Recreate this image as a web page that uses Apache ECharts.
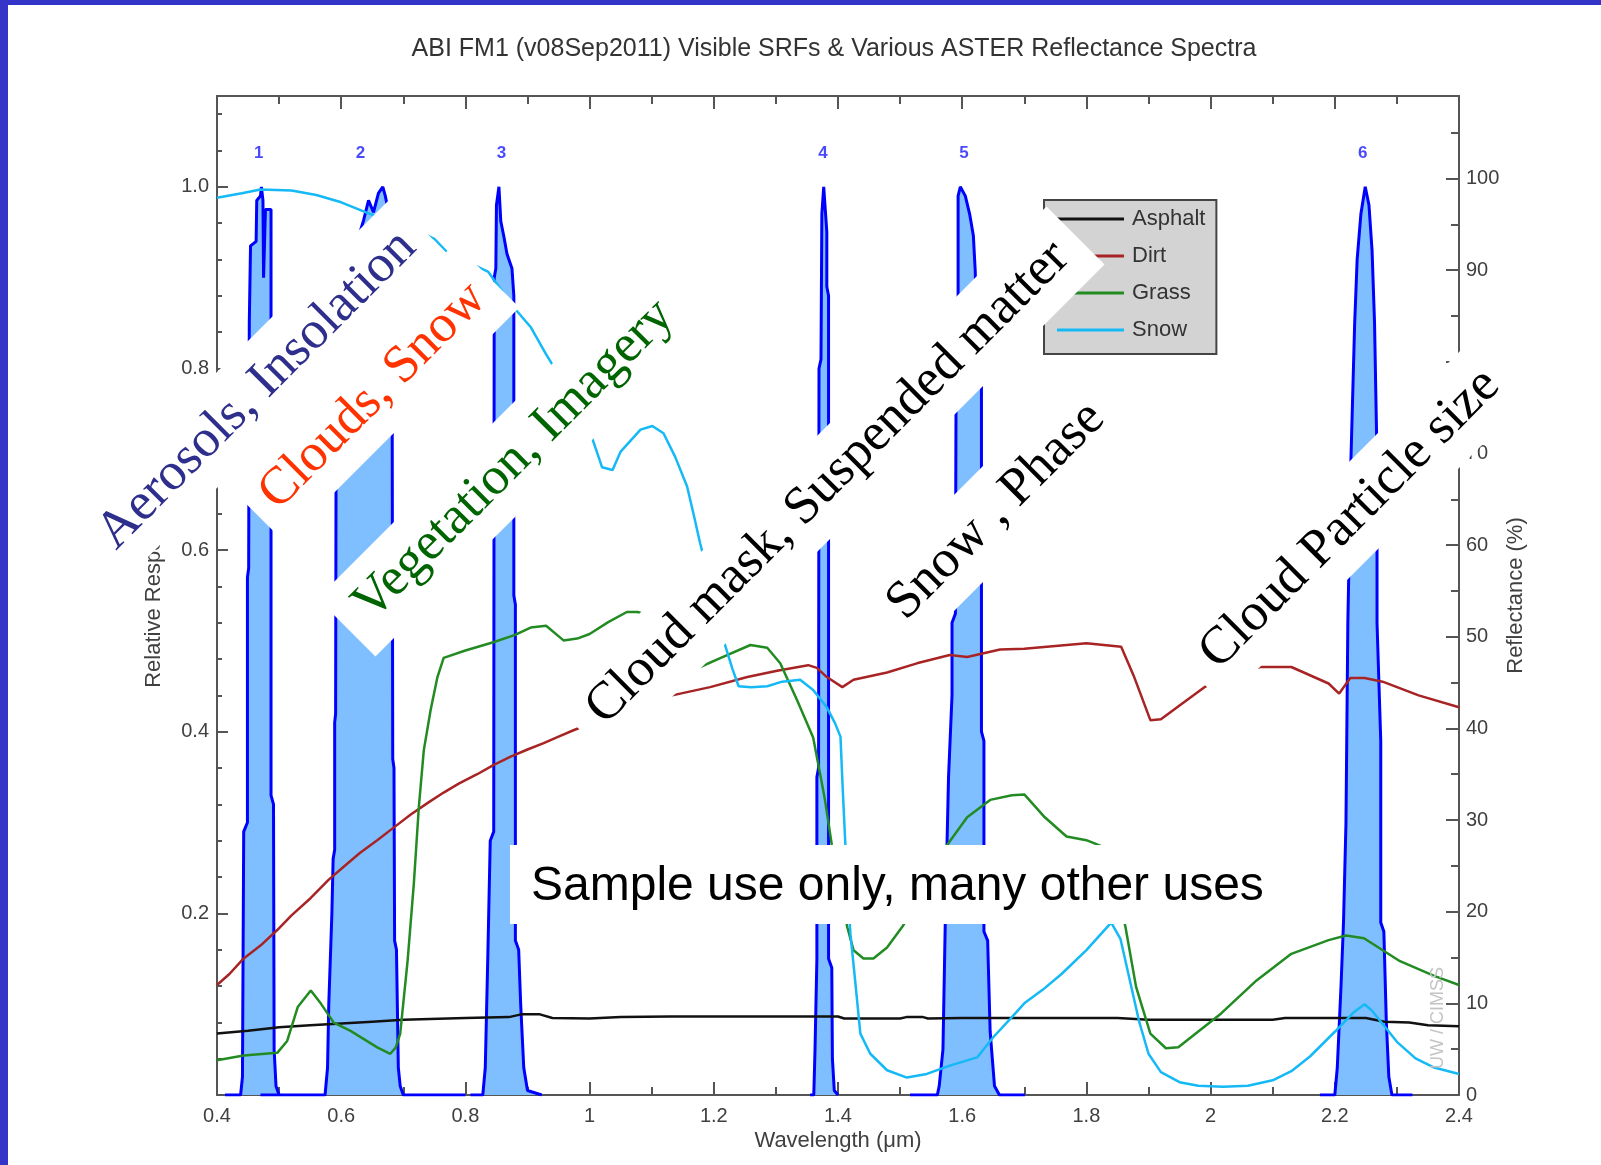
<!DOCTYPE html>
<html>
<head>
<meta charset="utf-8">
<script src="https://cdn.jsdelivr.net/npm/echarts@6/dist/echarts.min.js"></script>
<style>
html,body{margin:0;padding:0;background:#fff;}
#chart{width:1601px;height:1165px;}
</style>
</head>
<body>
<div id="chart"></div>
<script>
// ---------- data ----------
const chartTitle = 'ABI FM1 (v08Sep2011) Visible SRFs & Various ASTER Reflectance Spectra';
const xName = 'Wavelength (\u03bcm)';
const yLeftName = 'Relative Response';
const yRightName = 'Reflectance (%)';

const bandLabels = ['1', '2', '3', '4', '5', '6'];
const bandLabelX = [0.467, 0.631, 0.858, 1.376, 1.603, 2.245];

// ABI spectral response functions [wavelength um, relative response]
const band1 = [[0.413,0],[0.438,0],[0.441,0.02],[0.443,0.29],[0.449,0.30],[0.449,0.57],[0.451,0.58],[0.452,0.85],[0.454,0.935],[0.463,0.94],[0.464,0.985],[0.470,0.99],[0.4715,1.0],[0.474,0.985],[0.475,0.90],[0.477,0.90],[0.478,0.975],[0.487,0.975],[0.487,0.33],[0.491,0.32],[0.492,0.05],[0.495,0.01],[0.50,0]];
const band2 = [[0.47,0],[0.574,0],[0.578,0.03],[0.580,0.10],[0.585,0.20],[0.587,0.26],[0.5895,0.27],[0.5895,0.41],[0.591,0.42],[0.592,0.80],[0.600,0.86],[0.615,0.90],[0.628,0.945],[0.636,0.963],[0.644,0.985],[0.652,0.972],[0.660,0.993],[0.667,1.0],[0.671,0.99],[0.674,0.98],[0.678,0.94],[0.682,0.80],[0.683,0.37],[0.685,0.36],[0.686,0.17],[0.689,0.16],[0.692,0.03],[0.695,0.01],[0.70,0],[0.80,0]];
const band3 = [[0.808,0],[0.828,0],[0.832,0.03],[0.836,0.15],[0.840,0.28],[0.8456,0.29],[0.8464,0.90],[0.849,0.91],[0.850,0.98],[0.854,1.0],[0.857,0.962],[0.862,0.945],[0.867,0.926],[0.875,0.91],[0.878,0.88],[0.878,0.55],[0.8805,0.54],[0.8805,0.17],[0.8858,0.16],[0.889,0.10],[0.894,0.03],[0.90,0.005],[0.923,0]];
const band4 = [[1.355,0],[1.361,0],[1.363,0.05],[1.366,0.15],[1.366,0.35],[1.3687,0.36],[1.3694,0.80],[1.3726,0.81],[1.374,0.97],[1.377,1.0],[1.379,0.98],[1.382,0.95],[1.382,0.89],[1.3848,0.88],[1.3848,0.15],[1.390,0.14],[1.391,0.04],[1.394,0.005],[1.40,0]];
const band5 = [[1.516,0],[1.560,0],[1.563,0.01],[1.569,0.05],[1.573,0.2],[1.578,0.35],[1.5836,0.44],[1.5836,0.52],[1.589,0.53],[1.590,0.75],[1.5934,0.88],[1.5934,0.99],[1.597,1.0],[1.601,0.995],[1.605,0.99],[1.612,0.97],[1.618,0.946],[1.621,0.907],[1.623,0.85],[1.631,0.84],[1.631,0.40],[1.635,0.39],[1.635,0.18],[1.641,0.17],[1.645,0.07],[1.652,0.01],[1.66,0],[1.701,0]];
const band6 = [[2.176,0],[2.200,0],[2.204,0.03],[2.210,0.12],[2.214,0.19],[2.218,0.30],[2.221,0.52],[2.226,0.70],[2.232,0.85],[2.236,0.92],[2.242,0.97],[2.249,1.0],[2.255,0.98],[2.260,0.93],[2.264,0.85],[2.268,0.70],[2.268,0.52],[2.274,0.39],[2.274,0.19],[2.279,0.18],[2.283,0.08],[2.287,0.02],[2.292,0],[2.325,0]];

// ASTER reflectance spectra [wavelength um, reflectance %]
const asphalt = [[0.40,6.7],[0.45,7.0],[0.50,7.4],[0.55,7.6],[0.60,7.8],[0.65,8.0],[0.70,8.2],[0.80,8.4],[0.87,8.5],[0.89,8.8],[0.92,8.8],[0.94,8.4],[1.00,8.35],[1.05,8.5],[1.13,8.57],[1.30,8.57],[1.40,8.57],[1.41,8.35],[1.50,8.35],[1.51,8.5],[1.537,8.5],[1.545,8.35],[1.60,8.4],[1.70,8.4],[1.85,8.4],[1.90,8.2],[2.10,8.2],[2.12,8.4],[2.25,8.4],[2.28,8.0],[2.32,7.9],[2.35,7.6],[2.40,7.5]];
const dirt = [[0.40,12.0],[0.42,13.2],[0.443,14.9],[0.47,16.3],[0.497,18.0],[0.52,19.6],[0.551,21.5],[0.58,23.5],[0.604,24.9],[0.63,26.4],[0.658,27.8],[0.685,29.2],[0.712,30.6],[0.74,31.9],[0.765,33.0],[0.79,34.0],[0.819,35.0],[0.845,36.0],[0.872,36.9],[0.90,37.7],[0.926,38.4],[0.95,39.1],[0.974,39.8],[1.03,41.3],[1.08,42.6],[1.133,43.6],[1.194,44.5],[1.254,45.6],[1.302,46.3],[1.352,46.9],[1.366,46.6],[1.382,45.6],[1.407,44.5],[1.425,45.3],[1.479,46.1],[1.527,47.1],[1.58,48.0],[1.608,47.8],[1.661,48.6],[1.70,48.7],[1.75,49.0],[1.80,49.3],[1.856,48.9],[1.877,45.6],[1.903,40.9],[1.92,41.0],[1.95,42.5],[1.99,44.5],[2.03,45.8],[2.08,46.7],[2.13,46.7],[2.19,44.9],[2.207,43.8],[2.225,45.5],[2.248,45.5],[2.277,45.1],[2.335,43.6],[2.40,42.3]];
const grass = [[0.40,3.8],[0.443,4.3],[0.497,4.6],[0.513,5.9],[0.53,9.6],[0.551,11.4],[0.567,10.0],[0.588,7.9],[0.615,7.0],[0.658,5.2],[0.679,4.5],[0.688,5.2],[0.695,6.7],[0.707,14.7],[0.717,23.1],[0.725,31.4],[0.733,37.6],[0.744,42.0],[0.755,45.6],[0.765,47.7],[0.80,48.5],[0.845,49.4],[0.88,50.2],[0.905,51.0],[0.93,51.2],[0.958,49.6],[0.98,49.8],[1.0,50.3],[1.03,51.6],[1.06,52.7],[1.077,52.7],[1.10,52.3],[1.13,50.5],[1.16,47.8],[1.178,46.7],[1.215,47.8],[1.259,49.1],[1.286,48.8],[1.307,47.1],[1.334,43.1],[1.36,39.0],[1.371,35.1],[1.379,32.2],[1.39,27.3],[1.40,23.5],[1.415,18.3],[1.425,15.8],[1.441,14.9],[1.457,14.9],[1.479,16.1],[1.505,18.5],[1.53,21.5],[1.555,24.5],[1.576,27.3],[1.608,30.3],[1.645,32.2],[1.68,32.7],[1.70,32.8],[1.733,30.3],[1.768,28.2],[1.80,27.8],[1.826,27.1],[1.845,24.0],[1.863,18.3],[1.88,11.8],[1.903,6.7],[1.928,5.1],[1.948,5.2],[2.017,8.9],[2.074,12.5],[2.13,15.4],[2.19,16.9],[2.218,17.4],[2.247,17.1],[2.305,14.6],[2.36,13.0],[2.40,12.0]];
const snow = [[0.40,97.9],[0.44,98.4],[0.47,98.8],[0.52,98.7],[0.56,98.2],[0.60,97.4],[0.64,96.3],[0.68,95.3],[0.72,94.4],[0.75,93.4],[0.77,92.0],[0.80,91.0],[0.837,89.8],[0.877,86.0],[0.905,83.8],[0.93,80.8],[0.95,78.6],[0.97,76.0],[0.99,73.0],[1.004,71.7],[1.02,68.5],[1.037,68.2],[1.05,70.2],[1.082,72.6],[1.101,73.0],[1.119,72.2],[1.138,69.6],[1.157,66.4],[1.167,63.5],[1.178,60.2],[1.19,57.0],[1.205,53.0],[1.218,49.1],[1.23,46.5],[1.24,44.6],[1.26,44.5],[1.286,44.6],[1.31,45.1],[1.339,45.3],[1.36,44.2],[1.382,42.3],[1.395,40.6],[1.404,39.1],[1.407,34.3],[1.411,28.5],[1.415,23.0],[1.42,17.6],[1.428,12.2],[1.436,6.7],[1.452,4.5],[1.479,2.7],[1.511,1.9],[1.543,2.3],[1.58,3.2],[1.624,4.1],[1.65,6.3],[1.68,8.5],[1.70,10.0],[1.73,11.5],[1.76,13.2],[1.80,15.8],[1.82,17.3],[1.84,18.8],[1.855,17.0],[1.87,12.5],[1.885,8.0],[1.90,4.5],[1.92,2.5],[1.95,1.4],[1.98,1.0],[2.02,0.9],[2.06,1.0],[2.10,1.6],[2.13,2.6],[2.16,4.2],[2.20,6.9],[2.23,9.0],[2.248,9.9],[2.26,9.2],[2.28,7.5],[2.30,5.8],[2.33,4.0],[2.36,3.0],[2.40,2.3]];

const spectraNames = ['Asphalt', 'Dirt', 'Grass', 'Snow'];
const bannerTexts = ['Aerosols, Insolation', 'Clouds, Snow', 'Vegetation, Imagery', 'Cloud mask, Suspended matter', 'Snow , Phase', 'Cloud Particle size'];
const noteText = 'Sample use only, many other uses';
const watermarkText = 'UW / CIMSS';

// ---------- chart ----------
const bands = [band1, band2, band3, band4, band5, band6];
const spectra = [asphalt, dirt, grass, snow];
const spectraColors = ['#111111', '#a82424', '#228b22', '#14b9f5'];
const bannerColors = ['#2e2e8c', '#ff3300', '#006400', '#000000', '#000000', '#000000'];
const bannerGeom = [ // cx, cy, width, rect top offset, rect height
  [257, 390, 462, -41, 82], [373, 396, 332, -50, 91], [514, 460, 474, -41, 82],
  [828, 483, 700, -41, 82], [996, 511, 318, -41, 82], [1350, 519, 440, -41, 82]
];
const SANS = '"Liberation Sans", Arial, sans-serif';
const SERIF = '"Liberation Serif", "Times New Roman", serif';
const AX = '#555555';
const LBL = '#404040';

const series = [];
bands.forEach((b, i) => {
  series.push({
    name: 'Band ' + bandLabels[i], type: 'line', xAxisIndex: 0, yAxisIndex: 0,
    data: b, symbol: 'none', silent: true, z: 2,
    lineStyle: { color: '#0000ff', width: 3 },
    areaStyle: { color: '#80bfff', opacity: 1 }
  });
});
series.push({
  name: 'bandNumbers', type: 'scatter', xAxisIndex: 0, yAxisIndex: 0, silent: true, z: 3,
  symbolSize: 1, itemStyle: { color: 'rgba(0,0,0,0)' },
  data: bandLabelX.map((x, i) => [x, 1.037, bandLabels[i]]),
  label: { show: true, position: 'inside', formatter: p => p.value[2], color: '#1a1aff', fontWeight: 'bold', fontSize: 17, fontFamily: SANS }
});
spectra.forEach((s, i) => {
  series.push({
    name: spectraNames[i], type: 'line', xAxisIndex: 0, yAxisIndex: 2,
    data: s, symbol: 'none', z: 5, silent: true,
    lineStyle: { color: spectraColors[i], width: 2.5 },
    itemStyle: { color: spectraColors[i] }
  });
});

const graphic = [
  { type: 'rect', shape: { x: 0, y: 0, width: 1601, height: 5 }, style: { fill: '#3434c8' }, z: 200 },
  { type: 'rect', shape: { x: 0, y: 0, width: 8, height: 1165 }, style: { fill: '#3434c8' }, z: 200 }
];
bannerTexts.forEach((t, i) => {
  const g = bannerGeom[i];
  graphic.push({
    type: 'group', x: g[0], y: g[1], rotation: Math.PI / 4, z: 100,
    children: [
      { type: 'rect', z: 100, shape: { x: -g[2] / 2, y: g[3], width: g[2], height: g[4] }, style: { fill: '#ffffff' } },
      { type: 'text', z: 101, style: { text: t, x: 0, y: 0, align: 'center', verticalAlign: 'middle', font: '53px ' + SERIF, fill: bannerColors[i] } }
    ]
  });
});
graphic.push({ type: 'rect', z: 100, shape: { x: 510, y: 845, width: 761, height: 79 }, style: { fill: '#ffffff' } });
graphic.push({ type: 'text', z: 101, style: { text: noteText, x: 531, y: 887, align: 'left', verticalAlign: 'middle', font: '48px ' + SANS, fill: '#000000' } });
graphic.push({ type: 'text', z: 6, x: 1438, y: 1018, rotation: Math.PI / 2, style: { text: watermarkText, x: 0, y: 0, align: 'center', verticalAlign: 'middle', font: '18px ' + SANS, fill: '#c4c4c4' } });

const tickStyle = { color: AX, width: 2 };
const option = {
  animation: false,
  backgroundColor: '#ffffff',
  title: {
    text: chartTitle, left: 834, top: 37, textAlign: 'center', padding: 0,
    textStyle: { fontSize: 25, fontWeight: 'normal', color: '#333333', fontFamily: SANS }
  },
  legend: {
    data: spectraNames, orient: 'vertical', left: 1044, top: 200,
    icon: 'rect', itemWidth: 67, itemHeight: 3, itemGap: 15,
    padding: [8, 11, 13, 13],
    backgroundColor: '#d3d3d3', borderColor: '#444444', borderWidth: 2,
    textStyle: { fontSize: 22, color: '#333333', fontFamily: SANS, padding: [0, 0, 0, 3] },
    selectedMode: false
  },
  grid: { left: 217, right: 142, top: 96, bottom: 70, containLabel: false, outerBoundsMode: 'none' },
  xAxis: [
    {
      type: 'value', position: 'bottom', min: 0.4, max: 2.4, interval: 0.2,
      name: xName, nameLocation: 'middle', nameGap: 35, nameMoveOverlap: false,
      nameTextStyle: { fontSize: 22, color: LBL, fontFamily: SANS },
      axisLine: { show: true, onZero: false, lineStyle: tickStyle },
      axisTick: { show: true, inside: true, length: 13, lineStyle: tickStyle },
      minorTick: { show: true, splitNumber: 2, length: 8, lineStyle: tickStyle },
      axisLabel: { color: LBL, fontSize: 20, margin: 11, fontFamily: SANS },
      splitLine: { show: false }
    },
    {
      type: 'value', position: 'top', min: 0.4, max: 2.4, interval: 0.2,
      axisLine: { show: true, onZero: false, lineStyle: tickStyle },
      axisTick: { show: true, inside: true, length: 13, lineStyle: tickStyle },
      minorTick: { show: true, splitNumber: 2, length: 8, lineStyle: tickStyle },
      axisLabel: { show: false }, splitLine: { show: false }
    }
  ],
  yAxis: [
    {
      type: 'value', position: 'left', min: 0, max: 1.1, interval: 0.2,
      name: yLeftName, nameLocation: 'middle', nameGap: 52, nameRotate: 90, nameMoveOverlap: false,
      nameTextStyle: { fontSize: 22, color: LBL, fontFamily: SANS },
      axisLine: { show: true, onZero: false, lineStyle: tickStyle },
      axisTick: { show: true, inside: true, length: 11, lineStyle: tickStyle },
      axisLabel: { color: LBL, fontSize: 20, margin: 8, fontFamily: SANS, showMaxLabel: false,
        formatter: v => (v === 0 ? '' : v.toFixed(1)) },
      splitLine: { show: false }
    },
    {
      type: 'value', position: 'left', min: 0, max: 1.1, interval: 0.04,
      axisLine: { show: false }, axisLabel: { show: false }, splitLine: { show: false },
      axisTick: { show: true, inside: true, length: 5, lineStyle: tickStyle }
    },
    {
      type: 'value', position: 'right', min: 0, max: 109, interval: 10,
      name: yRightName, nameLocation: 'middle', nameGap: 46, nameRotate: 90, nameMoveOverlap: false,
      nameTextStyle: { fontSize: 22, color: LBL, fontFamily: SANS },
      axisLine: { show: true, onZero: false, lineStyle: tickStyle },
      axisTick: { show: true, inside: true, length: 13, lineStyle: tickStyle },
      axisLabel: { color: LBL, fontSize: 20, margin: 7, fontFamily: SANS, showMaxLabel: false },
      splitLine: { show: false }
    },
    {
      type: 'value', position: 'right', min: 0, max: 109, interval: 5,
      axisLine: { show: false }, axisLabel: { show: false }, splitLine: { show: false },
      axisTick: { show: true, inside: true, length: 8, lineStyle: tickStyle }
    }
  ],
  series: series,
  graphic: graphic
};

const chart = echarts.init(document.getElementById('chart'), null, { renderer: 'canvas' });
chart.setOption(option);
</script>
</body>
</html>
